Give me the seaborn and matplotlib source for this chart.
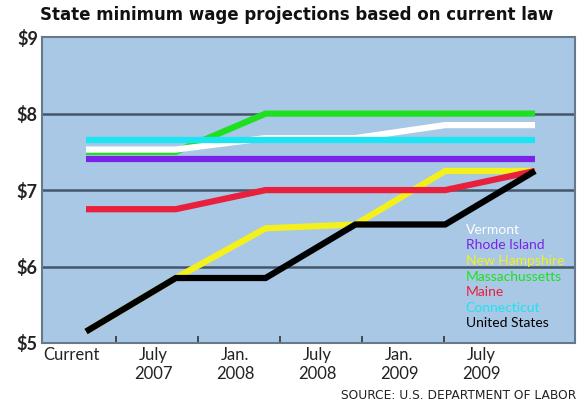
import numpy as np
import pandas as pd
import matplotlib
matplotlib.use('Agg')
import matplotlib.pyplot as plt
import seaborn as sns

# values (dollars per hour)
periods = ['Current', 'July\n2007', 'Jan.\n2008', 'July\n2008', 'Jan.\n2009', 'July\n2009']
vermont = [7.53, 7.53, 7.68, 7.68, 7.85, 7.85]
rhode_island = [7.40, 7.40, 7.40, 7.40, 7.40, 7.40]
new_hampshire = [5.15, 5.85, 6.50, 6.55, 7.25, 7.25]
massachusetts = [7.50, 7.50, 8.00, 8.00, 8.00, 8.00]
maine = [6.75, 6.75, 7.00, 7.00, 7.00, 7.25]
connecticut = [7.65, 7.65, 7.65, 7.65, 7.65, 7.65]
united_states = [5.15, 5.85, 5.85, 6.55, 6.55, 7.25]
y_ticks = [5, 6, 7, 8, 9]

series = {
    'Vermont': vermont,
    'Rhode Island': rhode_island,
    'New Hampshire': new_hampshire,
    'Massachussetts': massachusetts,
    'Maine': maine,
    'Connecticut': connecticut,
    'United States': united_states,
}
palette = {
    'Vermont': '#ffffff',
    'Rhode Island': '#7b22e8',
    'New Hampshire': '#f4f01c',
    'Massachussetts': '#1fe01f',
    'Maine': '#e8203c',
    'Connecticut': '#1ce4f2',
    'United States': '#000000',
}
legend_order = list(series.keys())
draw_order = ['Massachussetts', 'Vermont', 'New Hampshire', 'Maine',
              'Rhode Island', 'Connecticut', 'United States']

df = pd.DataFrame(series)
df['step'] = np.arange(len(periods))
df_long = df.melt(id_vars='step', var_name='State', value_name='wage')

sns.set_style('white', {'axes.facecolor': '#a8c8e6', 'axes.edgecolor': '#66788a'})
plt.rcParams['font.family'] = ['Lato', 'DejaVu Sans']

fig = plt.figure(figsize=(5.77, 4.04), dpi=100)
ax = fig.add_axes([0.0728, 0.151, 0.9237, 0.757])

for y in [6, 7, 8]:
    ax.axhline(y, color='#45566a', lw=1.8, zorder=1)

sns.lineplot(data=df_long, x='step', y='wage', hue='State', hue_order=draw_order,
             palette=palette, linewidth=4.5, ax=ax, legend=False, zorder=3)
for ln in ax.lines[3:]:
    ln.set_solid_capstyle('butt')
    ln.set_solid_joinstyle('miter')

ax.set_xlim(-0.49, 5.445)
ax.set_ylim(5, 9)
ax.set_yticks(y_ticks)
ax.set_yticklabels(['$%d' % v for v in y_ticks], fontsize=13, fontweight='bold', color='#222222')
ax.tick_params(axis='y', length=0, pad=3)
ax.set_xticks([])
ax.set_xlabel('')
ax.set_ylabel('')
for s in ax.spines.values():
    s.set_linewidth(1.5)

# category labels sit on their own even spacing, offset from the data points
sec = ax.secondary_xaxis('bottom', functions=(lambda d: (15 + 89.8 * d) / 82.0,
                                              lambda u: (82.0 * u - 15) / 89.8))
sec.set_xticks(range(len(periods)))
sec.set_xticklabels(periods, fontsize=12, color='#222222', linespacing=1.25)
sec.tick_params(axis='x', length=0, pad=3)
sec.set_xticks([i + 0.55 for i in range(len(periods) - 1)], minor=True)
sec.tick_params(axis='x', which='minor', direction='in', length=5, width=1.2, color='#333333')
sec.spines['bottom'].set_visible(False)

handles = [plt.Line2D([], [], color=palette[k], lw=0) for k in legend_order]
leg = ax.legend(handles, legend_order, loc='upper left', bbox_to_anchor=(0.795, 0.39),
                frameon=False, handlelength=0, handletextpad=0, borderpad=0,
                borderaxespad=0, labelspacing=0.26, fontsize=10,
                labelcolor=[palette[k] for k in legend_order])

fig.text(0.515, 0.962, 'State minimum wage projections based on current law',
         ha='center', va='center', fontsize=12, fontweight='bold', color='#111111',
         family='DejaVu Sans')
fig.text(0.999, 0.022, 'SOURCE: U.S. DEPARTMENT OF LABOR', ha='right', va='center',
         fontsize=8.8, color='#222222', family='DejaVu Sans')

fig.savefig('out.png', dpi=100)
